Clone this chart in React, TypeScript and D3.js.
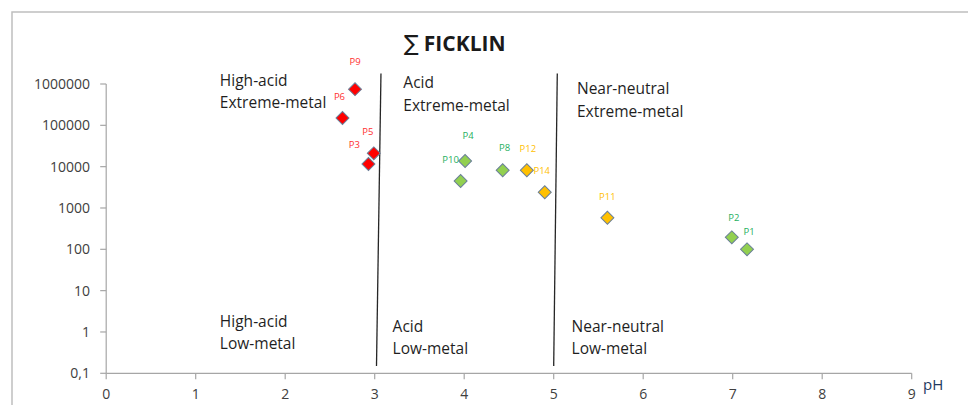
import React, { useRef, useEffect } from 'react';
import * as d3 from 'd3';

// sampling points: pH vs Ficklin sum (dissolved metals)
const pointNames = ['P1', 'P2', 'P3', 'P4', 'P5', 'P6', 'P8', 'P9', 'P10', 'P11', 'P12', 'P14'];
const phValues = [7.16, 6.99, 2.93, 4.01, 2.99, 2.64, 4.43, 2.78, 3.96, 5.6, 4.7, 4.9];
const ficklinSum = [100, 195, 11600, 13700, 21000, 150000, 8200, 750000, 4500, 580, 8200, 2400];
const pointGroup = ['green', 'green', 'red', 'green', 'red', 'red', 'green', 'red', 'green', 'amber', 'amber', 'amber'];

// data label nudges (px), so labels sit like in the original
const labelDx = [2, 2, -14, 3, -6, -3, 2, 0, -10, 0, 1, -3];
const labelDy = [-18, -20, -19, -25, -22, -21, -23, -27, -21, -21, -22, -22];

const xTicks = [0, 1, 2, 3, 4, 5, 6, 7, 8, 9];
const yTicks = [0.1, 1, 10, 100, 1000, 10000, 100000, 1000000];
const yTickLabels = ['0,1', '1', '10', '100', '1000', '10000', '100000', '1000000'];

// class boundaries, drawn by hand in the source (slightly slanted)
const boundaryTopPh = [3.07, 5.04];
const boundaryBottomPh = [3.02, 5.0];
const boundaryTop = 1.8e6;
const boundaryBottom = 0.15;

const regionLines = [
  ['High-acid', 'Extreme-metal'],
  ['Acid', 'Extreme-metal'],
  ['Near-neutral', 'Extreme-metal'],
  ['High-acid', 'Low-metal'],
  ['Acid', 'Low-metal'],
  ['Near-neutral', 'Low-metal'],
];
const regionPh = [1.27, 3.32, 5.26, 1.27, 3.2, 5.2];
const regionValue = [900000, 800000, 560000, 1.35, 1.0, 1.0];

const fillColor: Record<string, string> = { red: '#ff0000', green: '#92d050', amber: '#ffc000' };
const labelColor: Record<string, string> = { red: '#ff3030', green: '#1fb060', amber: '#ffc000' };

const W = 968;
const H = 405;
const FONT = '"Open Sans", "Noto Sans", sans-serif';

const App: React.FC = () => {
  const svgRef = useRef<SVGSVGElement>(null);

  useEffect(() => {
    if (!svgRef.current) return;
    const svg = d3.select(svgRef.current);
    svg.selectAll('*').remove();

    const x = d3.scaleLinear().domain([0, 9]).range([106.2, 911.7]);
    const y = d3.scaleLog().domain([0.1, 1000000]).range([373.3, 84]);

    svg.append('rect').attr('width', W).attr('height', H).attr('fill', '#fff');

    // outer frame (chart area border, cut by the window)
    svg
      .append('path')
      .attr('d', `M12,${H} L12,12 L${W},12`)
      .attr('fill', 'none')
      .attr('stroke', '#bfbfbf')
      .attr('stroke-width', 1.5);

    // title
    const title = svg
      .append('text')
      .attr('x', 404)
      .attr('y', 51)
      .attr('fill', '#1a1a1a');
    title
      .append('tspan')
      .attr('font-family', '"DejaVu Sans", sans-serif')
      .attr('font-size', 22)
      .attr('font-weight', 'normal')
      .text('∑');
    title
      .append('tspan')
      .attr('dx', 5)
      .attr('font-family', FONT)
      .attr('font-size', 21)
      .attr('font-weight', 'bold')
      .text('FICKLIN');

    // y axis
    const yAxis = svg.append('g');
    yAxis
      .append('line')
      .attr('x1', x(0))
      .attr('x2', x(0))
      .attr('y1', y(1000000))
      .attr('y2', y(0.1))
      .attr('stroke', '#a6a6a6')
      .attr('stroke-width', 1.2);
    yAxis
      .selectAll('line.tick')
      .data(yTicks)
      .enter()
      .append('line')
      .attr('class', 'tick')
      .attr('x1', x(0) - 6)
      .attr('x2', x(0))
      .attr('y1', (d) => y(d))
      .attr('y2', (d) => y(d))
      .attr('stroke', '#a6a6a6')
      .attr('stroke-width', 1.2);
    yAxis
      .selectAll('text')
      .data(yTicks)
      .enter()
      .append('text')
      .attr('x', 90)
      .attr('y', (d) => y(d))
      .attr('dy', '0.36em')
      .attr('text-anchor', 'end')
      .attr('font-family', FONT)
      .attr('font-size', 14)
      .attr('fill', '#404040')
      .text((d, i) => yTickLabels[i]);

    // x axis
    const xAxis = svg.append('g');
    xAxis
      .append('line')
      .attr('x1', x(0))
      .attr('x2', x(9))
      .attr('y1', y(0.1))
      .attr('y2', y(0.1))
      .attr('stroke', '#a6a6a6')
      .attr('stroke-width', 1.2);
    xAxis
      .selectAll('line.tick')
      .data(xTicks)
      .enter()
      .append('line')
      .attr('class', 'tick')
      .attr('x1', (d) => x(d))
      .attr('x2', (d) => x(d))
      .attr('y1', y(0.1))
      .attr('y2', y(0.1) + 6)
      .attr('stroke', '#a6a6a6')
      .attr('stroke-width', 1.2);
    xAxis
      .selectAll('text')
      .data(xTicks)
      .enter()
      .append('text')
      .attr('x', (d) => x(d))
      .attr('y', 399)
      .attr('text-anchor', 'middle')
      .attr('font-family', FONT)
      .attr('font-size', 14)
      .attr('fill', '#404040')
      .text((d) => String(d));
    svg
      .append('text')
      .attr('x', 923)
      .attr('y', 390)
      .attr('font-family', FONT)
      .attr('font-size', 15)
      .attr('fill', '#1f3a5f')
      .text('pH');

    // boundaries
    svg
      .selectAll('line.bound')
      .data(boundaryTopPh)
      .enter()
      .append('line')
      .attr('class', 'bound')
      .attr('x1', (d) => x(d))
      .attr('y1', y(boundaryTop))
      .attr('x2', (d, i) => x(boundaryBottomPh[i]))
      .attr('y2', y(boundaryBottom))
      .attr('stroke', '#262626')
      .attr('stroke-width', 1.3);

    // region annotations
    const regions = svg
      .selectAll('g.region')
      .data(regionLines)
      .enter()
      .append('g')
      .attr('class', 'region')
      .attr('transform', (d, i) => `translate(${x(regionPh[i])},${y(regionValue[i])})`);
    regions
      .selectAll('text')
      .data((d) => d)
      .enter()
      .append('text')
      .attr('y', (d, i) => i * 22.5)
      .attr('font-family', FONT)
      .attr('font-size', 15.5)
      .attr('fill', '#1f1f1f')
      .text((d) => d);

    // points
    const idx = d3.range(pointNames.length);
    const diamond = d3.symbol().type(d3.symbolSquare).size(84);
    svg
      .selectAll('path.pt')
      .data(idx)
      .enter()
      .append('path')
      .attr('class', 'pt')
      .attr('d', diamond)
      .attr('transform', (i) => `translate(${x(phValues[i])},${y(ficklinSum[i])}) rotate(45)`)
      .attr('fill', (i) => fillColor[pointGroup[i]])
      .attr('stroke', '#6a7f99')
      .attr('stroke-width', 1);

    svg
      .selectAll('text.pl')
      .data(idx)
      .enter()
      .append('text')
      .attr('class', 'pl')
      .attr('x', (i) => x(phValues[i]) + labelDx[i])
      .attr('y', (i) => y(ficklinSum[i]) + labelDy[i])
      .attr('dy', '0.35em')
      .attr('text-anchor', 'middle')
      .attr('font-family', FONT)
      .attr('font-size', 9.5)
      .attr('fill', (i) => labelColor[pointGroup[i]])
      .text((i) => pointNames[i]);
  }, []);

  return (
    <div style={{ position: 'absolute', left: 0, top: 0 }}>
      <svg ref={svgRef} width={W} height={H} style={{ display: 'block' }} />
    </div>
  );
};

export default App;
